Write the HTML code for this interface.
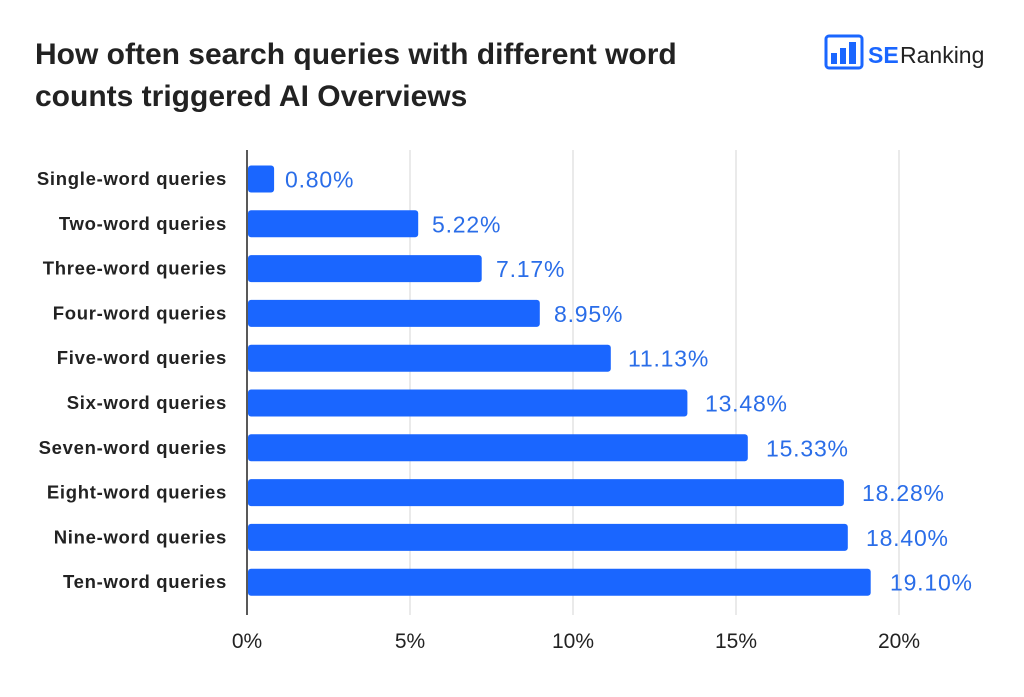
<!DOCTYPE html>
<html><head><style>
body{margin:0;background:#fff;width:1024px;height:692px;overflow:hidden;font-family:"Liberation Sans",sans-serif}
</style></head><body>
<svg width="1024" height="692" xmlns="http://www.w3.org/2000/svg" font-family="Liberation Sans, sans-serif">
<text x="35" y="64" font-size="30" font-weight="bold" fill="#222">How often search queries with different word</text>
<text x="35" y="106" font-size="30" font-weight="bold" fill="#222">counts triggered AI Overviews</text>
<g>
<rect x="826" y="36" width="36" height="32" rx="3" fill="none" stroke="#1a66ff" stroke-width="3"/>
<rect x="831" y="53" width="6" height="11" fill="#1a66ff"/>
<rect x="840" y="48" width="6" height="16" fill="#1a66ff"/>
<rect x="849" y="42" width="7" height="22" fill="#1a66ff"/>
<text x="868" y="63" font-size="23" font-weight="bold" fill="#1a66ff">SE</text>
<text x="900" y="63" font-size="23" fill="#222">Ranking</text>
</g>
<g stroke="#e3e3e3" stroke-width="1.5">
<line x1="410" y1="150" x2="410" y2="615"/>
<line x1="573" y1="150" x2="573" y2="615"/>
<line x1="736" y1="150" x2="736" y2="615"/>
<line x1="899" y1="150" x2="899" y2="615"/>
</g>
<g font-size="21" fill="#222" text-anchor="middle">
<text x="247" y="648">0%</text><text x="410" y="648">5%</text><text x="573" y="648">10%</text><text x="736" y="648">15%</text><text x="899" y="648">20%</text>
</g>
<g fill="#1a66ff">
<rect x="248" y="165.5" width="26.1" height="27" rx="3"/>
<rect x="248" y="210.3" width="170.2" height="27" rx="3"/>
<rect x="248" y="255.1" width="233.7" height="27" rx="3"/>
<rect x="248" y="299.9" width="291.8" height="27" rx="3"/>
<rect x="248" y="344.7" width="362.8" height="27" rx="3"/>
<rect x="248" y="389.5" width="439.4" height="27" rx="3"/>
<rect x="248" y="434.3" width="499.8" height="27" rx="3"/>
<rect x="248" y="479.1" width="595.9" height="27" rx="3"/>
<rect x="248" y="523.9" width="599.8" height="27" rx="3"/>
<rect x="248" y="568.7" width="622.7" height="27" rx="3"/>
</g>
<line x1="247" y1="150" x2="247" y2="615" stroke="#222" stroke-width="1.5"/>
<g font-size="18.5" font-weight="bold" fill="#222" text-anchor="end" letter-spacing="0.7">
<text x="227" y="185">Single-word queries</text>
<text x="227" y="229.8">Two-word queries</text>
<text x="227" y="274.6">Three-word queries</text>
<text x="227" y="319.4">Four-word queries</text>
<text x="227" y="364.2">Five-word queries</text>
<text x="227" y="409">Six-word queries</text>
<text x="227" y="453.8">Seven-word queries</text>
<text x="227" y="498.6">Eight-word queries</text>
<text x="227" y="543.4">Nine-word queries</text>
<text x="227" y="588.2">Ten-word queries</text>
</g>
<g font-size="23" fill="#2a6de8" letter-spacing="0.8">
<text x="285" y="187.5">0.80%</text>
<text x="432" y="232.3">5.22%</text>
<text x="496" y="277.1">7.17%</text>
<text x="554" y="321.9">8.95%</text>
<text x="628" y="366.7">11.13%</text>
<text x="705" y="411.5">13.48%</text>
<text x="766" y="456.3">15.33%</text>
<text x="862" y="501.1">18.28%</text>
<text x="866" y="545.9">18.40%</text>
<text x="890" y="590.7">19.10%</text>
</g>
</svg>
</body></html>
